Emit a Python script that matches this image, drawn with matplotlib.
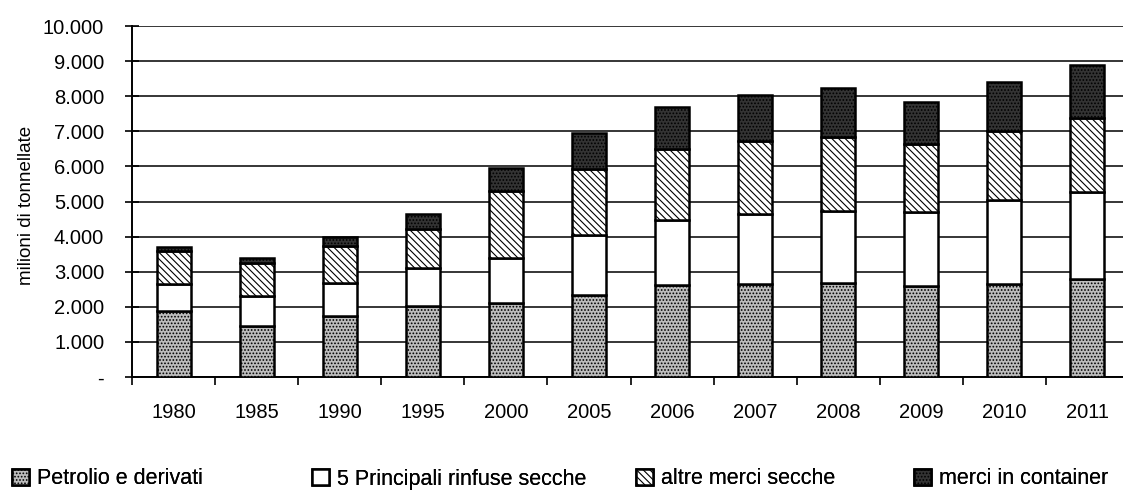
import matplotlib.pyplot as plt
import numpy as np

plt.rcParams['font.family'] = ['Liberation Sans', 'DejaVu Sans']
plt.rcParams['hatch.linewidth'] = 0.8

anni = ['1980', '1985', '1990', '1995', '2000', '2005', '2006', '2007', '2008', '2009', '2010', '2011']
petrolio = [1870, 1440, 1750, 2030, 2110, 2350, 2630, 2660, 2680, 2600, 2660, 2790]
rinfuse = [780, 860, 940, 1070, 1280, 1700, 1850, 1990, 2060, 2100, 2390, 2480]
altre = [950, 940, 1030, 1110, 1920, 1870, 2010, 2060, 2110, 1930, 1970, 2100]
container = [100, 150, 280, 430, 640, 1020, 1190, 1310, 1370, 1200, 1380, 1520]

serie = [
    ('Petrolio e derivati', petrolio, '#bdbdbd', '.....'),
    ('5 Principali rinfuse secche', rinfuse, 'white', None),
    ('altre merci secche', altre, 'white', '\\\\\\\\\\'),
    ('merci in container', container, '#333333', '.....'),
]

fig = plt.figure(figsize=(11.23, 4.95), dpi=100)
# the plot area runs a little past the right edge of the picture, as in the scan
ax = fig.add_axes([132 / 1123, 1 - 377 / 495, 997 / 1123, 351 / 495])

x = np.arange(len(anni))
base = np.zeros(len(anni))
handles = []
for nome, val, col, hatch in serie:
    b = ax.bar(x, val, 0.41, bottom=base, color=col, edgecolor='black', linewidth=1.8,
               hatch=hatch, label=nome, zorder=3)
    handles.append(b)
    base += np.array(val)

ax.set_xlim(-0.5, 11.5)
ax.set_ylim(0, 10000)
yt = np.arange(0, 10001, 1000)
ax.set_yticks(yt)
ax.set_yticklabels(['-'] + [f'{v:,}'.replace(',', '.') for v in yt[1:]], fontsize=14.5)
ax.yaxis.grid(True, color='black', linewidth=1.1, zorder=0)
ax.set_axisbelow(True)

ax.set_xticks(x)
ax.set_xticklabels(anni, fontsize=14.5)
ax.tick_params(axis='x', length=0, pad=19)
ax.set_xticks(np.arange(-0.5, 12, 1), minor=True)
ax.tick_params(axis='x', which='minor', length=6, width=1.2, direction='out')
ax.tick_params(axis='y', length=10, width=1.2, direction='inout', pad=15)

for s in ['top', 'right']:
    ax.spines[s].set_visible(False)
ax.spines['left'].set_linewidth(1.4)
ax.spines['bottom'].set_linewidth(1.4)

fig.text(27 / 1123, 1 - 205 / 495, 'milioni di tonnellate', rotation=90,
         ha='center', va='center', fontsize=13.5)

# legend entries spread along the bottom
leg_x = [12, 312, 636, 914]
for h, px in zip(handles, leg_x):
    leg = fig.legend([h], [h.get_label()], loc='center left',
                     bbox_to_anchor=(px / 1123, 1 - 479 / 495), frameon=False,
                     fontsize=15.5, handlelength=0.8, handleheight=0.8,
                     handletextpad=0.37, borderaxespad=0, borderpad=0)
    fig.add_artist(leg)

fig.savefig('out.png', dpi=100)
